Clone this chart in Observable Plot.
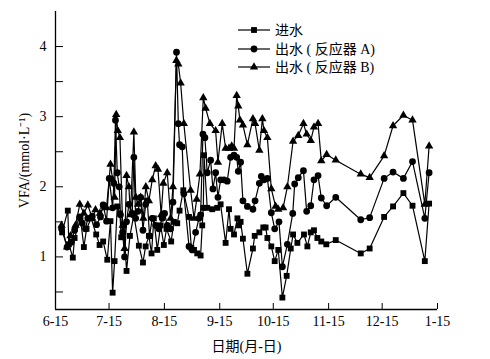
<!DOCTYPE html>
<html>
<head>
<meta charset="utf-8">
<script src="https://cdn.jsdelivr.net/npm/d3@7"></script>
<script src="https://cdn.jsdelivr.net/npm/@observablehq/plot@0.6"></script>
<style>
  html, body { margin: 0; padding: 0; background: #fff; }
  #wrap { position: relative; width: 490px; height: 359px; }
  #wrap svg { font-family: "Liberation Serif", "Noto Sans CJK SC", serif; }
  #legend { position: absolute; left: 0; top: 0; }
</style>
</head>
<body>
<div id="wrap"></div>
<script>
// x values: days after 6-15
const monthTicks = [0, 30, 61, 92, 122, 153, 183, 214];
const monthLabels = ["6-15", "7-15", "8-15", "9-15", "10-15", "11-15", "12-15", "1-15"];
const yTicks = [1, 2, 3, 4];
const yTickLabels = ["1", "2", "3", "4"];
const yMinorTicks = [0.5, 1.5, 2.5, 3.5];

const seriesNames = ["进水", "出水 ( 反应器 A)", "出水 ( 反应器 B)"];

// 进水 (influent)
const inDay = [3.7, 6.9, 7.5, 9.7, 10.7, 14.0, 15.9, 17.4, 20.0, 22.8, 24.7, 26.7, 29.0, 30.8, 32.0, 33.1, 34.6, 36.1, 36.8, 38.3, 39.8, 41.7, 43.9, 46.7, 49.0, 50.5, 52.3, 53.8, 55.1, 57.0, 58.9, 60.7, 62.2, 64.8, 66.3, 68.2, 69.5, 71.6, 74.8, 76.1, 77.6, 79.4, 81.3, 82.2, 82.8, 83.2, 85.0, 87.8, 90.6, 92.5, 95.3, 97.2, 98.1, 100.0, 101.9, 102.8, 103.7, 105.0, 107.5, 110.6, 111.6, 114.2, 116.4, 117.7, 118.7, 120.9, 122.8, 124.8, 127.1, 129.5, 131.8, 133.1, 135.5, 139.2, 141.1, 143.0, 144.8, 146.7, 148.9, 151.7, 157.0, 171.0, 176.0, 184.1, 189.1, 194.9, 200.0, 206.9, 209.3];
const inVFA = [1.35, 1.66, 1.18, 0.99, 1.27, 1.55, 1.14, 1.40, 1.55, 1.32, 1.17, 1.22, 0.96, 1.51, 0.49, 0.94, 1.72, 1.62, 1.28, 1.45, 0.80, 1.30, 1.60, 1.16, 0.92, 1.15, 1.30, 1.05, 1.55, 1.10, 1.45, 1.17, 1.40, 1.22, 1.50, 1.48, 1.66, 1.95, 1.57, 1.13, 1.10, 1.05, 1.02, 1.45, 1.70, 2.45, 1.70, 1.68, 1.70, 1.75, 1.20, 1.68, 1.40, 1.32, 1.55, 1.45, 1.50, 1.26, 0.76, 1.12, 1.30, 1.35, 1.42, 1.42, 1.27, 1.15, 0.94, 1.10, 0.42, 0.73, 1.12, 1.32, 1.20, 1.32, 1.15, 1.35, 1.38, 1.27, 1.22, 1.18, 1.24, 1.05, 1.12, 1.57, 1.72, 1.91, 1.73, 0.94, 1.76];

// 出水 (反应器 A)
const aDay = [3.4, 6.5, 8.8, 10.7, 13.5, 15.0, 16.8, 18.1, 20.6, 23.0, 25.2, 26.7, 28.6, 30.1, 32.0, 32.7, 33.6, 34.6, 35.7, 36.4, 37.6, 38.7, 39.8, 41.1, 43.0, 43.9, 44.9, 46.2, 47.7, 49.0, 50.5, 51.4, 52.7, 54.2, 56.1, 57.9, 59.8, 61.1, 62.6, 64.5, 65.8, 67.8, 68.8, 69.5, 71.0, 71.9, 74.8, 76.6, 78.5, 80.4, 81.3, 82.6, 83.7, 85.0, 86.9, 88.2, 89.7, 91.0, 92.5, 94.4, 96.2, 98.1, 100.0, 101.5, 102.4, 103.7, 105.0, 107.5, 110.6, 111.8, 114.2, 115.3, 116.8, 118.7, 120.9, 122.8, 125.2, 127.1, 129.9, 132.9, 134.0, 136.0, 138.9, 140.7, 143.0, 144.8, 147.1, 148.9, 151.9, 157.0, 171.0, 176.0, 184.1, 189.1, 194.9, 200.0, 206.9, 209.3];
const aVFA = [1.40, 1.14, 1.21, 1.38, 1.57, 1.48, 1.40, 1.55, 1.58, 1.46, 1.57, 1.74, 1.51, 2.12, 1.70, 2.05, 2.95, 2.20, 2.00, 1.60, 1.35, 1.00, 1.50, 1.75, 1.62, 2.42, 1.55, 1.65, 1.85, 1.38, 1.75, 1.80, 1.30, 1.55, 1.45, 1.40, 1.55, 1.62, 1.45, 1.40, 1.78, 3.92, 2.90, 2.60, 2.57, 1.90, 1.15, 1.10, 1.35, 1.55, 1.60, 2.75, 2.70, 2.20, 2.38, 1.97, 2.20, 1.85, 2.10, 2.10, 2.08, 2.42, 2.45, 2.42, 2.22, 2.35, 1.80, 1.72, 1.68, 1.80, 2.05, 2.15, 2.10, 2.12, 1.63, 1.40, 1.50, 0.86, 1.18, 1.62, 2.04, 2.13, 2.23, 1.65, 1.73, 2.10, 2.16, 1.84, 1.73, 1.85, 1.53, 1.56, 2.12, 2.21, 2.12, 2.36, 1.55, 2.20];

// 出水 (反应器 B)
const bDay = [3.4, 6.5, 8.4, 11.2, 13.6, 15.9, 18.1, 20.6, 22.4, 24.9, 27.1, 28.6, 30.8, 32.0, 33.1, 34.0, 34.9, 36.1, 37.6, 38.7, 39.8, 41.1, 42.0, 43.9, 45.0, 46.2, 47.7, 49.2, 50.6, 52.3, 54.2, 56.1, 57.4, 59.2, 60.4, 62.6, 64.5, 65.8, 67.7, 68.8, 70.1, 71.9, 75.7, 77.6, 79.1, 80.9, 82.8, 84.1, 86.5, 89.7, 91.0, 93.4, 95.3, 97.2, 98.7, 100.0, 101.5, 102.4, 103.3, 105.0, 107.5, 110.6, 111.8, 114.2, 115.9, 116.8, 118.7, 120.9, 123.3, 124.8, 127.5, 129.9, 133.1, 136.0, 138.9, 140.7, 143.0, 144.8, 147.1, 148.9, 151.9, 157.0, 171.0, 176.0, 184.1, 189.1, 194.9, 200.0, 206.9, 209.3];
const bVFA = [1.45, 1.14, 1.30, 1.45, 1.75, 1.62, 1.74, 1.55, 1.67, 1.62, 1.72, 1.70, 2.32, 2.10, 1.85, 3.03, 2.80, 2.70, 1.45, 1.12, 2.16, 2.00, 1.60, 2.78, 1.85, 1.75, 1.85, 1.55, 2.00, 1.80, 2.10, 2.30, 2.25, 1.60, 2.05, 2.20, 1.55, 2.00, 3.80, 3.75, 3.48, 2.90, 1.95, 1.55, 1.82, 2.18, 3.27, 3.12, 2.90, 2.80, 2.35, 2.90, 2.55, 2.55, 2.58, 2.55, 3.30, 3.15, 2.95, 2.88, 2.60, 2.97, 2.90, 2.52, 2.97, 2.80, 2.70, 1.97, 1.72, 1.68, 1.70, 2.00, 2.65, 2.73, 2.90, 2.75, 2.66, 2.85, 2.90, 2.37, 2.46, 2.38, 2.18, 2.13, 2.44, 2.87, 3.02, 2.95, 1.75, 2.58];

const symbols = ["square", "circle", "triangle"];
const radii = [3.3, 3.4, 3.1];

const sets = [[inDay, inVFA], [aDay, aVFA], [bDay, bVFA]].map(([d, v], k) =>
  d.map((day, i) => ({day, vfa: v[i], series: seriesNames[k]})));

const marks = [];
sets.forEach((data, k) => {
  marks.push(Plot.line(data, {x: "day", y: "vfa", stroke: "#000", strokeWidth: 1.2}));
});
sets.forEach((data, k) => {
  marks.push(Plot.dot(data, {x: "day", y: "vfa", symbol: () => symbols[k], r: radii[k], fill: "#000", stroke: "none"}));
});

const chart = Plot.plot({
  width: 490,
  height: 359,
  marginLeft: 55,
  marginRight: 53,
  marginTop: 11,
  marginBottom: 50,
  style: {fontFamily: '"Liberation Serif", "Noto Sans CJK SC", serif', fontSize: "14px", color: "#000", background: "#fff"},
  x: {domain: [0, 214]},
  y: {domain: [0.25, 4.5]},
  symbol: {type: "identity"},
  marks: [
    Plot.ruleX([0], {stroke: "#000", strokeWidth: 1.3}),
    Plot.ruleY([0.25], {stroke: "#000", strokeWidth: 1.3}),
    Plot.axisY({ticks: [...yTicks, ...yMinorTicks], tickSize: -8, tickFormat: () => "", label: null}),
    Plot.axisY({ticks: yTicks, tickSize: 0, tickPadding: 9, fontSize: 14, tickFormat: d => yTickLabels[yTicks.indexOf(d)], label: "VFA/(mmol·L⁻¹)", labelAnchor: "center", labelOffset: 36, labelArrow: "none"}),
    Plot.axisX({ticks: monthTicks, tickSize: -6, tickFormat: () => "", label: null}),
    Plot.axisX({ticks: monthTicks, tickSize: 0, tickPadding: 7, fontSize: 14, tickFormat: d => monthLabels[monthTicks.indexOf(d)], label: "日期(月-日)", labelAnchor: "center", labelOffset: 41, labelArrow: "none"}),
    ...marks
  ]
});

const wrap = document.getElementById("wrap");
wrap.appendChild(chart);

// legend overlay
const leg = d3.select(wrap).append("svg")
  .attr("id", "legend").attr("width", 490).attr("height", 90)
  .style("font-family", '"Liberation Serif", "Noto Sans CJK SC", serif')
  .style("font-size", "14px");
const rowY = [30, 49, 67];
seriesNames.forEach((name, k) => {
  const g = leg.append("g").attr("transform", `translate(0,${rowY[k]})`);
  g.append("line").attr("x1", 238).attr("x2", 270).attr("y1", 0).attr("y2", 0).attr("stroke", "#000").attr("stroke-width", 1.2);
  const sym = [d3.symbolSquare, d3.symbolCircle, d3.symbolTriangle][k];
  g.append("path").attr("d", d3.symbol(sym, Math.PI * radii[k] * radii[k])()).attr("transform", "translate(254,0)").attr("fill", "#000");
  g.append("text").attr("x", 275).attr("y", 0).attr("dy", "0.35em").attr("fill", "#000").text(name);
});
</script>
</body>
</html>
